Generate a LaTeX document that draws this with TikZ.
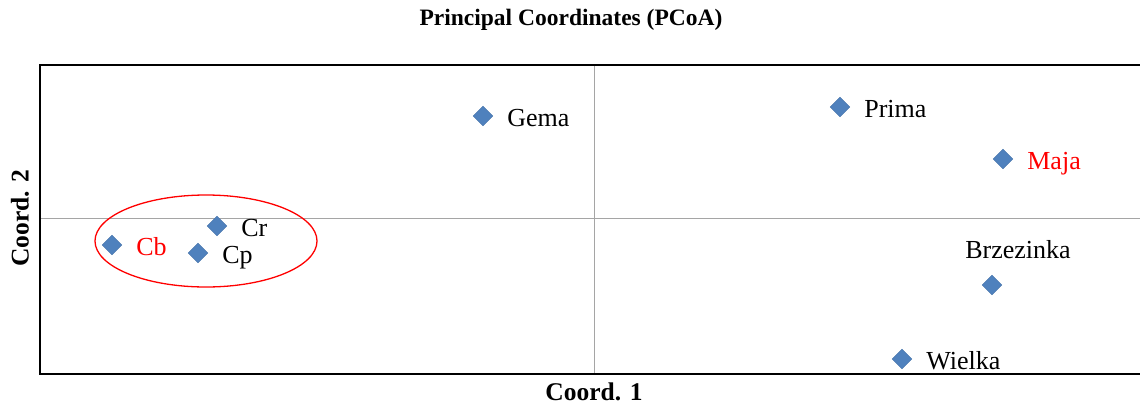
\documentclass[tikz,border=0pt]{standalone}
\usepackage{fontspec}
\setmainfont{Liberation Serif}
\usepackage{xcolor}
\usetikzlibrary{shapes.geometric, positioning}
\definecolor{pointblue}{RGB}{79, 129, 189}
\definecolor{axisgray}{RGB}{165, 165, 165}

\begin{document}
\begin{tikzpicture}[
			x=1pt, y=-1pt,
			node distance=13pt,
			point/.style={diamond, fill=pointblue, draw=pointblue!90!black, line width=0.3pt, minimum size=20pt, inner sep=0pt},
			lbl/.style={font=\fontsize{26}{29}\selectfont, inner sep=1pt, text height=22pt, text depth=1pt},
			hilite/.style={lbl, text=red},
			axtitle/.style={font=\fontsize{25.5}{28}\selectfont\bfseries, inner sep=0pt}
			]
			\useasboundingbox (0,0) rectangle (1140,405);
			
			% Axes and frame
			\draw[axisgray, line width=1pt] (40,218) -- (1140,218);
			\draw[axisgray, line width=1pt] (594,65) -- (594,374);
			\draw[line width=2pt] (1140,65) -- (40,65) -- (40,374) -- (1140,374);
			
			% Titles
			\node[font=\fontsize{23.5}{26}\selectfont\bfseries, inner sep=0pt] (title) at (571,20) {Principal Coordinates (PCoA)};
			\node[axtitle] (xlab) at (594,392) {Coord. 1};
			\node[axtitle, rotate=90] (ylab) at (20,218) {Coord. 2};
			
			% Points
			\node[point] (gema) at (483,116) {};
			\node[point] (prima) at (840,107) {};
			\node[point] (maja) at (1003,159) {};
			\node[point] (cr) at (217,226) {};
			\node[point] (cb) at (112,245) {};
			\node[point] (cp) at (198,253) {};
			\node[point] (brz) at (992,285) {};
			\node[point] (wielka) at (902,359) {};
			
			% Labels
			\node[lbl, right=of gema] (gemalbl) {Gema};
			\node[lbl, right=of prima] (primalbl) {Prima};
			\node[hilite, right=of maja] (majalbl) {Maja};
			\node[lbl, right=of cr] (crlbl) {Cr};
			\node[hilite, right=of cb] (cblbl) {Cb};
			\node[lbl, right=of cp] (cplbl) {Cp};
			\node[lbl, above=14pt of brz, xshift=26pt] (brzlbl) {Brzezinka};
			\node[lbl, right=of wielka] (wielkalbl) {Wielka};
			
			% Group
			\draw[red, line width=1.3pt] (206,241) ellipse [x radius=111, y radius=46];
		\end{tikzpicture}
\end{document}
